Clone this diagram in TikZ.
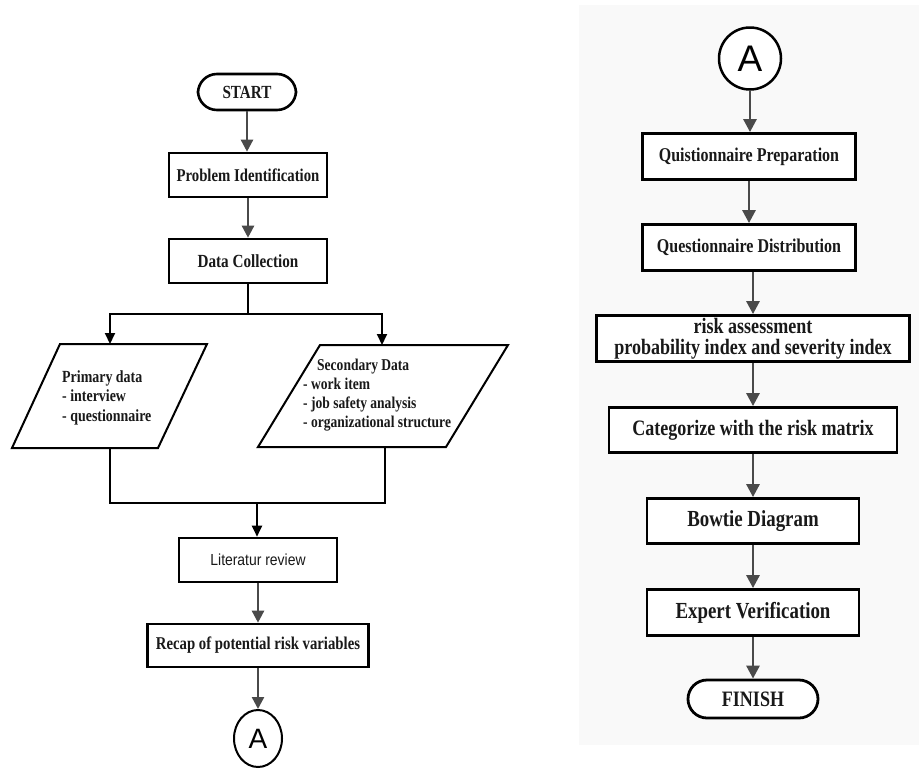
\documentclass[tikz,border=0pt]{standalone}
\usepackage{fontspec}
\setmainfont{Liberation Serif}
\newfontfamily\narrowserif[FakeStretch=0.82]{Liberation Serif}
\newfontfamily\narrowsans[FakeStretch=0.87]{Liberation Sans}
\newfontfamily\plainsans{Liberation Sans}
\usetikzlibrary{arrows.meta,shapes.geometric}

\definecolor{arrowgray}{HTML}{4A4A4A}
\definecolor{panelbg}{HTML}{F9F9F9}

\tikzset{
  box/.style={draw=black, line width=2.6pt, fill=white, inner sep=0pt,
    align=center, text=black!90},
  bf/.style={font=\narrowserif\bfseries\fontsize{#1}{#1}\selectfont},
  term/.style={box, rounded corners=19pt},
  connector/.style={draw=black, fill=white, inner sep=0pt},
  flow/.style={draw=arrowgray, line width=2.4pt,
    -{Triangle[length=12pt,width=12pt]}},
  rflow/.style={flow, line width=2.8pt, -{Triangle[length=13pt,width=13pt]}},
  bline/.style={draw=black, line width=2pt},
  barrow/.style={bline, -{Triangle[length=11pt,width=10pt]}},
  para/.style={draw=black, line width=2pt, fill=white, line join=miter},
  paratext/.style={align=left, inner sep=0pt, text=black!90,
    font=\narrowserif\bfseries\fontsize{17}{19.5}\selectfont},
}

\begin{document}
\begin{tikzpicture}[x=1pt, y=-1pt]
  \useasboundingbox (0,0) rectangle (919,769);
  \fill[white] (0,0) rectangle (919,769);
  % second column sits on a light panel
  \fill[panelbg] (579,5) rectangle (919,745);

  % ---------------- first column ----------------
  \node[term, bf=18.5, minimum width=98pt, minimum height=36pt] (start) at (247,92) {START};
  \node[box, bf=18, minimum width=158pt, minimum height=44pt] (pid) at (248,175) {Problem Identification};
  \node[box, bf=18.5, minimum width=158pt, minimum height=44pt] (dc) at (248,261) {Data Collection};

  % input shapes (parallelograms) with their text
  \path[para] (60,344) -- (207,344) -- (158,448) -- (12,448) -- cycle;
  \path[para] (320,345) -- (508,345) -- (446,447) -- (258,447) -- cycle;
  \coordinate (primtop) at (110,344);
  \coordinate (primbot) at (110,448);
  \coordinate (sectop) at (382,345);
  \coordinate (secbot) at (385,447);
  \node[paratext, anchor=west] (prim) at (62,397.5)
    {Primary data\\- interview\\- questionnaire};
  \node[paratext, anchor=west, font=\narrowserif\bfseries\fontsize{16.5}{19}\selectfont] (sec) at (303,395.5)
    {\hspace*{14pt}Secondary Data\\- work item\\- job safety analysis\\- organizational structure};

  \node[box, minimum width=158pt, minimum height=44pt,
    font=\narrowsans\fontsize{16}{18}\selectfont] (lit) at (258,560) {Literatur review};
  \node[box, bf=18, minimum width=221pt, minimum height=43pt] (recap) at (258,645.5) {Recap of potential risk variables};
  \node[connector, ellipse, line width=2pt, minimum width=48pt, minimum height=57pt,
    font=\plainsans\fontsize{28}{28}\selectfont] (ca) at (258,738.5) {A};

  % first column connectors
  \draw[flow] (start.south) -- (start.south |- pid.north);
  \draw[flow] (pid.south) -- (pid.south |- dc.north);
  \coordinate (split) at (248,314);
  \draw[bline] (dc.south) -- (split);
  \draw[barrow] (split) -| (primtop);
  \draw[barrow] (split) -| (sectop);
  \coordinate (join) at (257,503);
  \draw[bline] (primbot) |- (join);
  \draw[bline] (secbot) |- (join);
  \draw[barrow] (join) -- (join |- lit.north);
  \draw[flow] (lit.south) -- (lit.south |- recap.north);
  \draw[flow] (recap.south) -- (recap.south |- ca.north);

  % ---------------- second column ----------------
  \node[connector, circle, line width=2.5pt, minimum size=62pt,
    font=\plainsans\fontsize{37}{37}\selectfont] (cb) at (750,58.5) {A};
  \node[box, bf=19.5, line width=2.8pt, minimum width=213pt, minimum height=46pt] (qp) at (749,156.5) {Quistionnaire Preparation};
  \node[box, bf=19.5, line width=2.8pt, minimum width=213pt, minimum height=46pt] (qd) at (749,247.5) {Questionnaire Distribution};
  \node[box, line width=2.8pt, minimum width=313pt, minimum height=46pt,
    font=\narrowserif\bfseries\fontsize{22}{20.5}\selectfont] (ra) at (753,338.5)
    {risk assessment\\probability index and severity index};
  \node[box, bf=22, line width=2.8pt, minimum width=288pt, minimum height=45pt] (cat) at (753,430) {Categorize with the risk matrix};
  \node[box, bf=23, line width=2.8pt, minimum width=212pt, minimum height=45pt] (bow) at (753,521) {Bowtie Diagram};
  \node[box, bf=23, line width=2.8pt, minimum width=212pt, minimum height=46pt] (ev) at (753,612.5) {Expert Verification};
  \node[term, bf=22, line width=2.8pt, minimum width=130pt, minimum height=38pt] (fin) at (753,699) {FINISH};

  % second column connectors
  \draw[rflow] (cb.south) -- (cb.south |- qp.north);
  \draw[rflow] (qp.south) -- (qp.south |- qd.north);
  \draw[rflow] (qd.south -| ra.north) -- (ra.north);
  \draw[rflow] (ra.south) -- (ra.south |- cat.north);
  \draw[rflow] (cat.south) -- (cat.south |- bow.north);
  \draw[rflow] (bow.south) -- (bow.south |- ev.north);
  \draw[rflow] (ev.south) -- (ev.south |- fin.north);
\end{tikzpicture}
\end{document}
